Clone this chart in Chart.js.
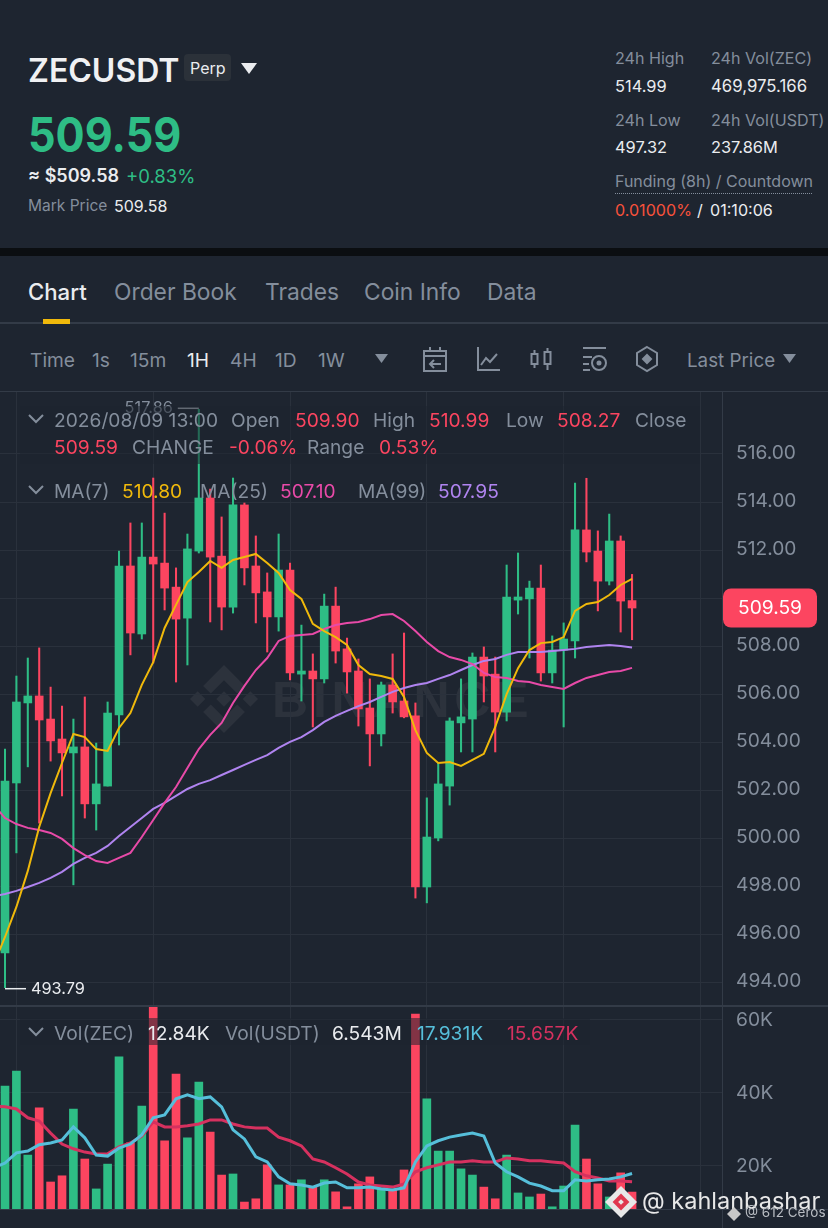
<!DOCTYPE html>
<html><head><meta charset="utf-8">
<script src="https://cdn.jsdelivr.net/npm/chart.js@4/dist/chart.umd.min.js"></script>
<style>
html,body{margin:0;padding:0;background:#1E2530;width:828px;height:1228px;overflow:hidden}
body{position:relative;font-family:"Inter","Noto Sans",sans-serif;color:#848E9C}
.t{position:absolute;white-space:nowrap;transform:translateY(-50%);font-size:20px;line-height:1}
.w{color:#EAECEF}.r{color:#FC4560}.g{color:#2EBD85}.gr{color:#848E9C}
.s17{font-size:16.1px}.s24{font-size:22.8px}.s20{font-size:19.2px}
.ln{position:absolute;background:#333B47}
canvas{position:absolute;left:0}
svg{position:absolute;overflow:visible}
</style></head><body>
<!-- watermark behind the canvas -->
<svg style="left:190px;top:665px" width="68" height="68" viewBox="0 0 126.61 126.61"><g fill="#2C323C"><path d="M38.73 53.2L63.31 28.62l24.59 24.59 14.3-14.3L63.31 0 24.43 38.9l14.3 14.3z"/><path d="M0 63.31l14.3-14.3 14.3 14.3-14.3 14.3z"/><path d="M38.73 73.41l24.58 24.58 24.59-24.58 14.31 14.29-38.9 38.91L24.42 87.73l14.31-14.32z"/><path d="M98 63.31l14.3-14.3 14.31 14.3-14.3 14.3z"/><path d="M77.83 63.3L63.31 48.78 52.57 59.51l-1.23 1.24-2.54 2.54 14.51 14.5 14.51-14.5z"/></g></svg>
<div class="t" style="left:272px;top:700px;font-size:50px;font-weight:800;letter-spacing:4.8px;color:#2C323C;font-family:'Liberation Sans'">BINANCE</div>

<canvas id="price" width="828" height="613" style="top:392px;width:828px;height:613px"></canvas>
<canvas id="vol" width="828" height="204" style="top:1005px;width:828px;height:204px"></canvas>

<!-- header -->
<div class="t" style="left:28px;top:71px;font-size:32px;font-weight:600;color:#F0F1F3">ZECUSDT</div>
<div style="position:absolute;left:184px;top:54px;width:47px;height:27px;background:#2B3139;border-radius:4px"></div>
<div class="t w" style="left:190px;top:68px;font-size:16px">Perp</div>
<svg style="left:241px;top:63px" width="16" height="11"><path d="M0 0H16L8 11Z" fill="#EAECEF"/></svg>
<div class="t g" style="left:28px;top:135px;font-size:43.2px;font-weight:700;transform:translateY(-50%) scaleY(1.12)">509.59</div>
<div class="t w" style="left:28px;top:176px;font-size:18px;font-weight:600">≈ $509.58</div>
<div class="t g" style="left:126px;top:176px;font-size:18.5px">+0.83%</div>
<div class="t gr" style="left:28px;top:206px;font-size:15.5px">Mark Price</div>
<div class="t w" style="left:114px;top:206px;font-size:16px">509.58</div>
<div class="t gr s17" style="left:615px;top:58px">24h High</div>
<div class="t gr s17" style="left:711px;top:58px">24h Vol(ZEC)</div>
<div class="t w" style="left:615px;top:86px;font-size:16.4px">514.99</div>
<div class="t w" style="left:711px;top:86px;font-size:16.8px">469,975.166</div>
<div class="t gr s17" style="left:615px;top:120px">24h Low</div>
<div class="t gr s17" style="left:711px;top:120px">24h Vol(USDT)</div>
<div class="t w" style="left:615px;top:147px;font-size:16.4px">497.32</div>
<div class="t w" style="left:711px;top:147px;font-size:16.4px">237.86M</div>
<div class="t gr" style="left:615px;top:181px;font-size:16px">Funding (8h) / Countdown</div>
<div style="position:absolute;left:615px;top:193px;width:197px;border-top:1.5px dotted #848E9C"></div>
<div class="t s17" style="left:615px;top:210px;color:#F6513B">0.01000%</div>
<div class="t w s17" style="left:697px;top:210px">/</div>
<div class="t w s17" style="left:710px;top:210px">01:10:06</div>
<div style="position:absolute;left:0;top:248px;width:828px;height:8px;background:#0B0E11"></div>

<!-- tabs -->
<div class="t w" style="left:28px;top:292px;font-size:22.2px;font-weight:500">Chart</div>
<div class="t gr s24" style="left:114px;top:292px">Order Book</div>
<div class="t gr s24" style="left:265px;top:292px">Trades</div>
<div class="t gr s24" style="left:364px;top:292px">Coin Info</div>
<div class="t gr s24" style="left:487px;top:292px">Data</div>
<div class="ln" style="left:0;top:322px;width:828px;height:2px"></div>
<div style="position:absolute;left:43px;top:319px;width:27px;height:5px;background:#F0B90B"></div>

<!-- toolbar -->
<div class="t gr s20" style="left:30px;top:361px">Time</div>
<div class="t gr s20" style="left:92px;top:361px">1s</div>
<div class="t gr s20" style="left:130px;top:361px">15m</div>
<div class="t w s20" style="left:187px;top:361px">1H</div>
<div class="t gr s20" style="left:230px;top:361px">4H</div>
<div class="t gr s20" style="left:275px;top:361px">1D</div>
<div class="t gr s20" style="left:318px;top:361px">1W</div>
<svg style="left:375px;top:354px" width="13" height="9"><path d="M0 0H13L6.5 9Z" fill="#848E9C"/></svg>
<svg style="left:423px;top:346px" width="24" height="26" fill="none" stroke="#848E9C" stroke-width="2"><rect x="1" y="5" width="22" height="20"/><path d="M1 10H23M7 1V5M17 1V5M18 18H8M11 14L7 18L11 22"/></svg>
<svg style="left:476px;top:346px" width="24" height="26" fill="none" stroke="#848E9C" stroke-width="2"><path d="M2 1V24H24M5 19L10 12L14 16L21 8"/></svg>
<svg style="left:530px;top:347px" width="22" height="24" fill="none" stroke="#848E9C" stroke-width="2"><rect x="1.5" y="7" width="6" height="10"/><rect x="14.5" y="5" width="6" height="12"/><path d="M4.5 3V7M4.5 17V21M17.5 1V5M17.5 17V23"/></svg>
<svg style="left:582px;top:346px" width="26" height="26" fill="none" stroke="#848E9C" stroke-width="2"><path d="M1 2H24M1 11H10M1 18H7M1 24H8"/><circle cx="17" cy="17" r="7"/><circle cx="17" cy="17" r="1.5" fill="#848E9C"/></svg>
<svg style="left:636px;top:346px" width="22" height="26" fill="none" stroke="#848E9C" stroke-width="2"><path d="M11 1L21 7V19L11 25L1 19V7Z"/><path d="M11 9L15 13L11 17L7 13Z" fill="#848E9C"/></svg>
<div class="t gr" style="left:687px;top:361px;font-size:18.8px">Last Price</div>
<svg style="left:783px;top:354px" width="13" height="9"><path d="M0 0H13L6.5 9Z" fill="#848E9C"/></svg>
<div class="ln" style="left:0;top:391px;width:828px;height:1px"></div>

<!-- legends -->
<div style="position:absolute;left:20px;top:406px;width:680px;height:58px;background:rgba(30,37,48,.55)"></div>
<svg style="left:28px;top:414px" width="16" height="10" fill="none" stroke="#848E9C" stroke-width="2"><path d="M1 1L8 8L15 1"/></svg>
<div class="t gr s20" style="left:54px;top:421px">2026/08/09 13:00</div>
<div class="t gr s20" style="left:231px;top:421px">Open</div>
<div class="t r s20" style="left:295px;top:421px">509.90</div>
<div class="t gr s20" style="left:373px;top:421px">High</div>
<div class="t r s20" style="left:429px;top:421px">510.99</div>
<div class="t gr s20" style="left:506px;top:421px">Low</div>
<div class="t r s20" style="left:557px;top:421px">508.27</div>
<div class="t gr s20" style="left:635px;top:421px">Close</div>
<div class="t r s20" style="left:54px;top:448px">509.59</div>
<div class="t gr s20" style="left:132px;top:448px">CHANGE</div>
<div class="t r s20" style="left:229px;top:448px">-0.06%</div>
<div class="t gr s20" style="left:307px;top:448px">Range</div>
<div class="t r s20" style="left:379px;top:448px">0.53%</div>
<svg style="left:28px;top:485px" width="16" height="10" fill="none" stroke="#848E9C" stroke-width="2"><path d="M1 1L8 8L15 1"/></svg>
<div class="t gr s20" style="left:54px;top:492px">MA(7)</div>
<div class="t s20" style="left:122px;top:492px;color:#F0B90B">510.80</div>
<div class="t gr s20" style="left:200px;top:492px">MA(25)</div>
<div class="t s20" style="left:280px;top:492px;color:#E84AA8">507.10</div>
<div class="t gr s20" style="left:358px;top:492px">MA(99)</div>
<div class="t s20" style="left:438px;top:492px;color:#B084F0">507.95</div>

<div style="position:absolute;left:20px;top:1018px;width:570px;height:27px;background:rgba(30,37,48,.55)"></div>
<svg style="left:28px;top:1027px" width="16" height="10" fill="none" stroke="#848E9C" stroke-width="2"><path d="M1 1L8 8L15 1"/></svg>
<div class="t gr s20" style="left:54px;top:1034px">Vol(ZEC)</div>
<div class="t w s20" style="left:148px;top:1034px">12.84K</div>
<div class="t gr s20" style="left:225px;top:1034px">Vol(USDT)</div>
<div class="t w s20" style="left:332px;top:1034px">6.543M</div>
<div class="t s20" style="left:417px;top:1034px;color:#56BFDA">17.931K</div>
<div class="t s20" style="left:507px;top:1034px;color:#D6315F">15.657K</div>

<div class="ln" style="left:0;top:1005px;width:828px;height:2px"></div>
<div class="ln" style="left:0;top:1209px;width:828px;height:1px"></div>
<div class="ln" style="left:722px;top:1209px;width:1px;height:19px"></div>

<!-- overlay credit -->
<svg style="left:605px;top:1186px" width="32" height="32" viewBox="0 0 126.61 126.61"><path d="M63.3 0L126.6 63.3L63.3 126.6L0 63.3Z" fill="#E8E8E8"/><g fill="#E0384F"><path d="M63.3 30L96.6 63.3L63.3 96.6L30 63.3Z"/></g><path d="M63.3 52L74.6 63.3L63.3 74.6L52 63.3Z" fill="#E8E8E8"/></svg>
<div class="t" style="left:642px;top:1201px;font-size:23.5px;color:#E8E8E8">@ kahlanbashar</div>
<svg style="left:727px;top:1207px" width="14" height="14" viewBox="0 0 126.61 126.61"><path d="M63.3 0L126.6 63.3L63.3 126.6L0 63.3Z" fill="#C8C8C8"/></svg>
<div class="t" style="left:745px;top:1213px;font-size:13.5px;color:#B8BCC2">@ 612 Ceros</div>

<script>
// candle values, index 0..55
const opens  = [495.24,502.31,505.64,505.93,504.97,504.14,503.56,503.81,501.44,502.18,505.14,511.34,508.51,511.71,511.46,510.46,509.17,511.96,514.17,511.75,509.63,513.88,511.34,510.26,509.22,511.17,506.84,506.97,506.64,509.67,507.89,506.97,505.43,504.35,506.39,505.72,505.10,497.98,500.02,502.18,504.81,504.97,507.55,506.84,505.26,509.92,509.97,510.42,506.89,507.84,508.22,512.84,511.96,510.71,512.38,509.90];
const highs  = [503.72,506.76,507.51,507.93,506.30,505.51,504.97,505.89,503.97,505.68,511.96,513.13,513.13,515.00,513.54,511.26,512.67,517.86,514.54,513.38,515.00,513.96,512.59,511.05,512.67,511.46,508.88,507.68,510.17,510.46,508.34,507.47,506.64,506.51,507.68,508.55,505.64,501.69,503.14,505.02,506.64,507.72,507.97,507.55,511.38,511.88,510.71,511.38,508.43,508.97,514.79,514.99,512.80,513.50,512.59,510.99];
const lows   = [493.79,499.40,502.98,500.64,503.22,501.77,498.07,500.85,500.35,502.18,503.89,507.64,508.30,507.30,509.51,506.51,507.22,511.88,509.01,508.68,509.38,510.55,508.97,507.76,508.63,506.60,505.72,504.64,506.47,507.30,506.05,504.68,503.02,503.85,505.22,505.02,497.52,497.32,499.90,501.39,503.60,503.60,505.68,503.60,504.89,509.34,507.51,506.55,506.47,504.64,507.51,511.51,509.47,510.55,508.59,508.27];
const closes = [502.39,505.68,505.93,504.93,504.06,503.56,503.81,501.44,502.27,505.22,511.34,508.55,511.71,511.42,510.42,509.13,512.05,514.17,511.71,509.63,513.88,511.26,510.22,509.22,511.17,506.89,506.97,506.64,509.67,507.80,506.93,505.39,504.35,506.39,505.68,505.06,497.98,500.06,502.27,504.89,505.06,507.55,506.76,505.26,510.05,510.05,510.42,506.89,507.84,508.30,512.84,511.92,510.71,512.38,509.88,509.59];
// moving averages: first value belongs to the bar just left of the visible window
const ma7  = [494.74,495.90,497.15,498.65,500.48,501.89,503.14,504.35,504.22,503.72,503.64,504.60,505.22,506.39,507.34,508.76,509.72,510.67,511.09,511.55,511.26,511.59,511.71,511.84,511.46,511.05,510.34,509.97,508.93,508.63,508.38,508.05,507.22,506.84,506.76,506.64,505.89,504.51,503.56,503.14,503.18,503.02,503.27,503.52,504.64,506.01,507.09,507.84,508.13,508.18,508.38,509.47,509.76,509.84,510.13,510.55,510.80];
const ma25 = [501.39,500.85,500.60,500.44,500.35,500.23,499.98,499.60,499.31,499.06,498.98,499.19,499.40,500.06,500.77,501.48,502.14,502.93,503.72,504.31,504.81,505.64,506.35,507.01,507.51,508.22,508.43,508.47,508.51,508.72,508.88,508.97,509.01,509.13,509.30,509.34,509.05,508.63,508.18,507.80,507.55,507.43,507.26,506.89,506.72,506.68,506.55,506.51,506.39,506.30,506.22,506.47,506.68,506.80,506.93,506.97,507.10];
const ma99 = [497.60,497.69,497.82,497.98,498.15,498.36,498.61,498.94,499.19,499.40,499.69,500.10,500.48,500.85,501.23,501.48,501.77,502.06,502.27,502.43,502.64,502.85,503.06,503.27,503.47,503.77,504.02,504.22,504.51,504.85,505.10,505.31,505.51,505.68,505.89,506.10,506.26,506.39,506.47,506.64,506.80,507.01,507.22,507.39,507.47,507.64,507.76,507.76,507.76,507.80,507.84,507.89,507.97,508.01,508.05,508.01,507.95];
// volume in thousands of ZEC
const vols = [41.9,46.0,23.0,35.9,15.6,17.3,35.6,21.9,13.7,20.5,49.9,26.3,36.4,63.8,26.9,45.2,27.7,43.0,29.3,17.5,17.8,10.1,11.0,20.3,14.8,14.8,16.2,14.2,16.2,12.9,8.8,15.1,17.0,14.0,13.4,18.9,61.6,38.4,24.1,24.1,19.2,17.5,14.2,11.0,23.0,12.6,11.5,12.3,8.8,14.5,31.2,21.9,15.1,11.5,18.1,12.84];
const volMaFast = [19.5,20.8,23.6,24.1,25.8,26.3,27.1,30.7,27.7,23.0,22.7,24.9,26.0,28.5,33.2,34.0,38.4,39.5,38.4,38.9,36.2,29.9,27.4,22.5,21.1,17.0,15.1,14.8,14.2,15.3,15.6,14.0,14.0,14.2,13.7,13.4,14.0,21.1,25.5,26.9,27.9,28.5,29.0,28.2,20.8,18.4,17.0,15.3,14.5,13.2,13.2,16.2,15.9,16.2,16.4,17.0,17.931];
const volMaSlow = [36.4,36.2,35.6,33.2,32.3,29.0,26.0,24.7,23.8,23.3,23.3,25.2,26.3,28.2,32.1,30.7,30.7,31.0,31.5,32.6,32.6,31.5,30.7,30.4,30.4,27.9,26.9,25.5,21.9,21.1,19.5,17.8,15.6,14.8,14.5,14.2,15.1,18.4,19.5,20.3,21.1,21.1,21.4,21.1,21.1,22.2,21.9,21.4,21.4,21.1,20.8,18.4,17.3,16.7,15.9,15.9,15.657];
const priceTicks = [494,496,498,500,502,504,506,508,510,512,514,516];
const volTicks = [20,40,60];
const gridBars = [1,13,25,37,49,61];
const lastPrice = 509.59, highMark = 517.86, highBar = 17, lowMark = 493.79, lowBar = 0;

const UP='#2EBD85', DOWN='#FC4560', GRID='#2A313C', AXIS='#333B47', TXT='#848E9C';
const FONT='"Inter","Noto Sans",sans-serif';
Chart.defaults.animation=false;
const colors = closes.map((c,i)=> c>=opens[i]?UP:DOWN);
const lineSet=(vals,color,w,order)=>({type:'line',data:vals.map((y,k)=>({x:k-1,y})),borderColor:color,borderWidth:w,pointRadius:0,tension:0,order});
const xScale=()=>({type:'linear',offset:false,min:-0.4386,max:62.89,
  afterBuildTicks:s=>{s.ticks=gridBars.map(value=>({value}));},
  afterFit:s=>{s.height=0;s.paddingLeft=0;s.paddingRight=0;},
  ticks:{display:false},border:{display:false},
  grid:{color:GRID,lineWidth:1,drawTicks:false,offset:false}});
const yScale=(min,max,vals,fmt,off)=>({position:'right',min,max,
  afterBuildTicks:s=>{s.ticks=vals.map(value=>({value}));},
  afterFit:s=>{s.width=106;s.paddingTop=0;s.paddingBottom=0;},
  border:{display:true,color:AXIS,width:1},
  grid:{color:GRID,lineWidth:1,drawTicks:false},
  ticks:{autoSkip:false,color:TXT,padding:14,labelOffset:off,font:{family:FONT,size:19.2},callback:fmt}});

const marks={id:'marks',afterDraw(c){
  const g=c.ctx,x=c.scales.x,y=c.scales.y;
  g.save();
  g.font='16.3px '+FONT;g.textBaseline='middle';g.lineWidth=1.5;
  let px=x.getPixelForValue(highBar),py=y.getPixelForValue(highMark)-1;
  g.strokeStyle='#B7BDC6';g.beginPath();g.moveTo(px-21,py);g.lineTo(px,py);g.stroke();
  g.fillStyle=TXT;g.textAlign='right';g.fillText(highMark.toFixed(2),px-26,py);
  px=x.getPixelForValue(lowBar);py=y.getPixelForValue(lowMark)+1;
  g.strokeStyle='#EAECEF';g.beginPath();g.moveTo(px,py);g.lineTo(px+21,py);g.stroke();
  g.fillStyle='#EAECEF';g.textAlign='left';g.fillText(lowMark.toFixed(2),px+26,py);
  py=y.getPixelForValue(lastPrice);
  g.fillStyle=DOWN;g.beginPath();g.roundRect(723,py-19.5,94,39,8);g.fill();
  g.fillStyle='#FFFFFF';g.textAlign='center';g.font='19.2px '+FONT;g.fillText(lastPrice.toFixed(2),770,py+0.5);
  g.restore();
}};

new Chart(document.getElementById('price'),{
  type:'bar',
  data:{datasets:[
    lineSet(ma7,'#F0B90B',2,0),
    lineSet(ma25,'#E84AA8',2,0),
    lineSet(ma99,'#B084F0',2,0),
    {data:opens.map((o,i)=>({x:i,y:[o,closes[i]]})),backgroundColor:colors,barThickness:8,grouped:false,order:1},
    {data:lows.map((l,i)=>({x:i,y:[l,highs[i]]})),backgroundColor:colors,barThickness:1.4,grouped:false,order:2}
  ]},
  options:{responsive:false,devicePixelRatio:1,layout:{padding:0},
    plugins:{legend:{display:false},tooltip:{enabled:false}},
    scales:{x:xScale(),y:yScale(493.07,518.58,priceTicks,v=>Math.abs(v-lastPrice)<1?'':v.toFixed(2),-1)}},
  plugins:[marks]
});
new Chart(document.getElementById('vol'),{
  type:'bar',
  data:{datasets:[
    lineSet(volMaFast,'#56BFDA',3,0),
    lineSet(volMaSlow,'#D6315F',3,0),
    {data:vols.map((v,i)=>({x:i,y:v})),backgroundColor:colors,barThickness:8,grouped:false,order:1}
  ]},
  options:{responsive:false,devicePixelRatio:1,layout:{padding:0},
    plugins:{legend:{display:false},tooltip:{enabled:false}},
    scales:{x:xScale(),y:yScale(8.2,64.1,volTicks,v=>v+'K',0)}}
});
</script>
</body></html>
